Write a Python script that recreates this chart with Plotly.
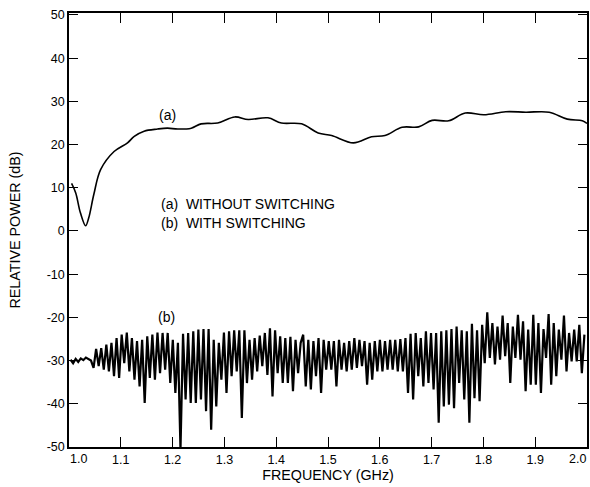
import numpy as np
import plotly.graph_objects as go

# curve (a): without switching
a_freq = [1.005, 1.013, 1.022, 1.032, 1.038, 1.048, 1.061, 1.087, 1.113, 1.126, 1.145,
          1.171, 1.19, 1.21, 1.236, 1.255, 1.287, 1.32, 1.346, 1.384, 1.41, 1.449,
          1.481, 1.507, 1.549, 1.584, 1.61, 1.643, 1.675, 1.701, 1.733, 1.765, 1.801,
          1.843, 1.882, 1.927, 1.962, 1.991, 2.0]
a_power = [11.0, 8.8, 4.2, 1.2, 3.0, 8.5, 14.2, 18.4, 20.4, 21.9, 23.1,
           23.6, 23.8, 23.6, 23.8, 24.8, 25.0, 26.4, 25.8, 26.2, 25.0, 24.8,
           22.7, 22.1, 20.4, 21.8, 22.1, 24.0, 24.1, 25.6, 25.5, 27.3, 26.9,
           27.6, 27.5, 27.5, 25.9, 25.5, 24.9]

# curve (b): with switching, swept samples from 1.003 to 1.995 GHz
b_start, b_stop = 1.003, 1.995
b_power = [
    -29.8, -30.6, -29.6, -30.3, -29.5, -29.9, -29.3, -29.6, -30.0,
    # 1.05 - 1.45
    -31.7, -27.3, -31.3, -27.1, -32.1, -26.3, -32.5, -25.9, -33.6, -24.8,
    -34.0, -24.0, -30.6, -23.5, -32.5, -24.8, -34.4, -25.5, -36.0, -25.2,
    -39.8, -24.4, -34.0, -24.0, -34.4, -23.5, -32.9, -23.6, -32.1, -23.6,
    -35.2, -25.2, -37.5, -25.9, -50.6, -23.8, -39.0, -23.6, -39.8, -23.2,
    -39.8, -22.8, -39.0, -22.7, -41.7, -22.7, -46.0, -25.2, -40.6, -25.9,
    -34.4, -23.5, -37.5, -23.2, -33.6, -23.0, -32.5, -23.0, -43.3, -23.0,
    -35.2, -25.2, -34.4, -24.8, -32.5, -24.2, -31.3, -23.6, -33.3, -22.5,
    -38.3, -23.0, -32.9, -24.4, -35.2, -24.8, -35.2, -24.5, -37.1, -25.2,
    -32.9, -25.9,
    # 1.45 - 2.0
    -24.0, -36.0, -25.2, -36.7, -25.5, -33.6, -24.8, -37.5, -25.2, -32.1,
    -25.5, -32.1, -25.5, -36.0, -25.2, -32.1, -25.9, -32.5, -25.5, -32.1,
    -24.8, -31.7, -25.2, -31.3, -25.5, -35.6, -25.9, -34.4, -25.5, -32.5,
    -25.2, -32.5, -25.5, -32.1, -25.2, -32.1, -25.2, -32.5, -25.0, -32.5,
    -24.8, -37.5, -23.8, -39.0, -23.6, -33.6, -24.8, -36.0, -23.2, -35.2,
    -23.6, -36.7, -23.6, -44.4, -23.2, -40.6, -23.0, -40.2, -22.7, -41.0,
    -22.1, -35.2, -23.0, -39.0, -23.2, -44.4, -21.5, -38.7, -23.0, -39.4,
    -21.7, -30.6, -18.8, -29.4, -21.3, -30.9, -22.1, -29.8, -19.6, -29.0,
    -21.3, -35.2, -22.1, -29.4, -19.4, -29.8, -20.9, -37.1, -22.8, -35.6,
    -19.4, -35.6, -21.3, -37.5, -22.7, -29.4, -19.2, -35.6, -21.3, -33.6,
    -22.8, -29.8, -19.6, -32.5, -23.6, -30.2, -22.8, -30.2, -21.7, -32.9,
    -24.0,
]
b_freq = np.linspace(b_start, b_stop, len(b_power))

y_ticks = [50, 40, 30, 20, 10, 0, -10, -20, -30, -40, -50]
x_ticks = [1.0, 1.1, 1.2, 1.3, 1.4, 1.5, 1.6, 1.7, 1.8, 1.9, 2.0]

font = "Liberation Sans, Arial, Helvetica, sans-serif"
sp = "\u00a0\u00a0"

fig = go.Figure()
fig.add_trace(go.Scatter(x=a_freq, y=a_power, mode="lines", line_shape="spline",
                         line=dict(color="black", width=1.6)))
fig.add_trace(go.Scatter(x=b_freq, y=b_power, mode="lines",
                         line=dict(color="black", width=2.2)))

fig.add_annotation(x=1.191, y=26.9, text="(a)", showarrow=False)
fig.add_annotation(x=1.173, y=6.25, text="(a)" + sp + "WITHOUT SWITCHING", showarrow=False, xanchor="left")
fig.add_annotation(x=1.173, y=1.85, text="(b)" + sp + "WITH SWITCHING", showarrow=False, xanchor="left")
fig.add_annotation(x=1.189, y=-19.9, text="(b)", showarrow=False)

# end labels sit inward of their ticks, as in the original
fig.add_annotation(x=x_ticks[0], y=0, yref="paper", xshift=9, yshift=-12, text="%.1f" % x_ticks[0],
                   showarrow=False, font=dict(size=12.5), yanchor="middle")
fig.add_annotation(x=x_ticks[-1], y=0, yref="paper", xshift=-10, yshift=-12, text="%.1f" % x_ticks[-1],
                   showarrow=False, font=dict(size=12.5), yanchor="middle")

fig.update_layout(
    width=590, height=487,
    margin=dict(l=69, r=3, t=13, b=40),
    paper_bgcolor="white", plot_bgcolor="white",
    showlegend=False,
    font=dict(family=font, size=14, color="black"),
)
fig.update_xaxes(
    range=[1.0, 2.0], tickvals=x_ticks,
    ticktext=[""] + ["%.1f" % v for v in x_ticks[1:-1]] + [""],
    ticks="inside", ticklen=10, tickwidth=1.2, tickcolor="black",
    showline=True, linecolor="black", linewidth=1.5, mirror="ticks",
    showgrid=False, zeroline=False, automargin=False,
    tickfont=dict(size=12.5),
    title=dict(text="FREQUENCY (GHz)", font=dict(size=14.3), standoff=3),
)
fig.update_yaxes(
    range=[-50, 50.46], tickvals=y_ticks, ticktext=[str(v) for v in y_ticks],
    ticks="inside", ticklen=9, tickwidth=1.2, tickcolor="black",
    showline=True, linecolor="black", linewidth=1.5, mirror="ticks",
    showgrid=False, zeroline=False, automargin=False,
    tickfont=dict(size=12.5),
    title=dict(text="RELATIVE POWER (dB)", font=dict(size=14.3), standoff=23),
)

# drop the default 8px body margin so the 590x487 figure fills the window
fig.write_html("out.html", config={"displayModeBar": False},
               post_script="document.body.style.margin='0';")
